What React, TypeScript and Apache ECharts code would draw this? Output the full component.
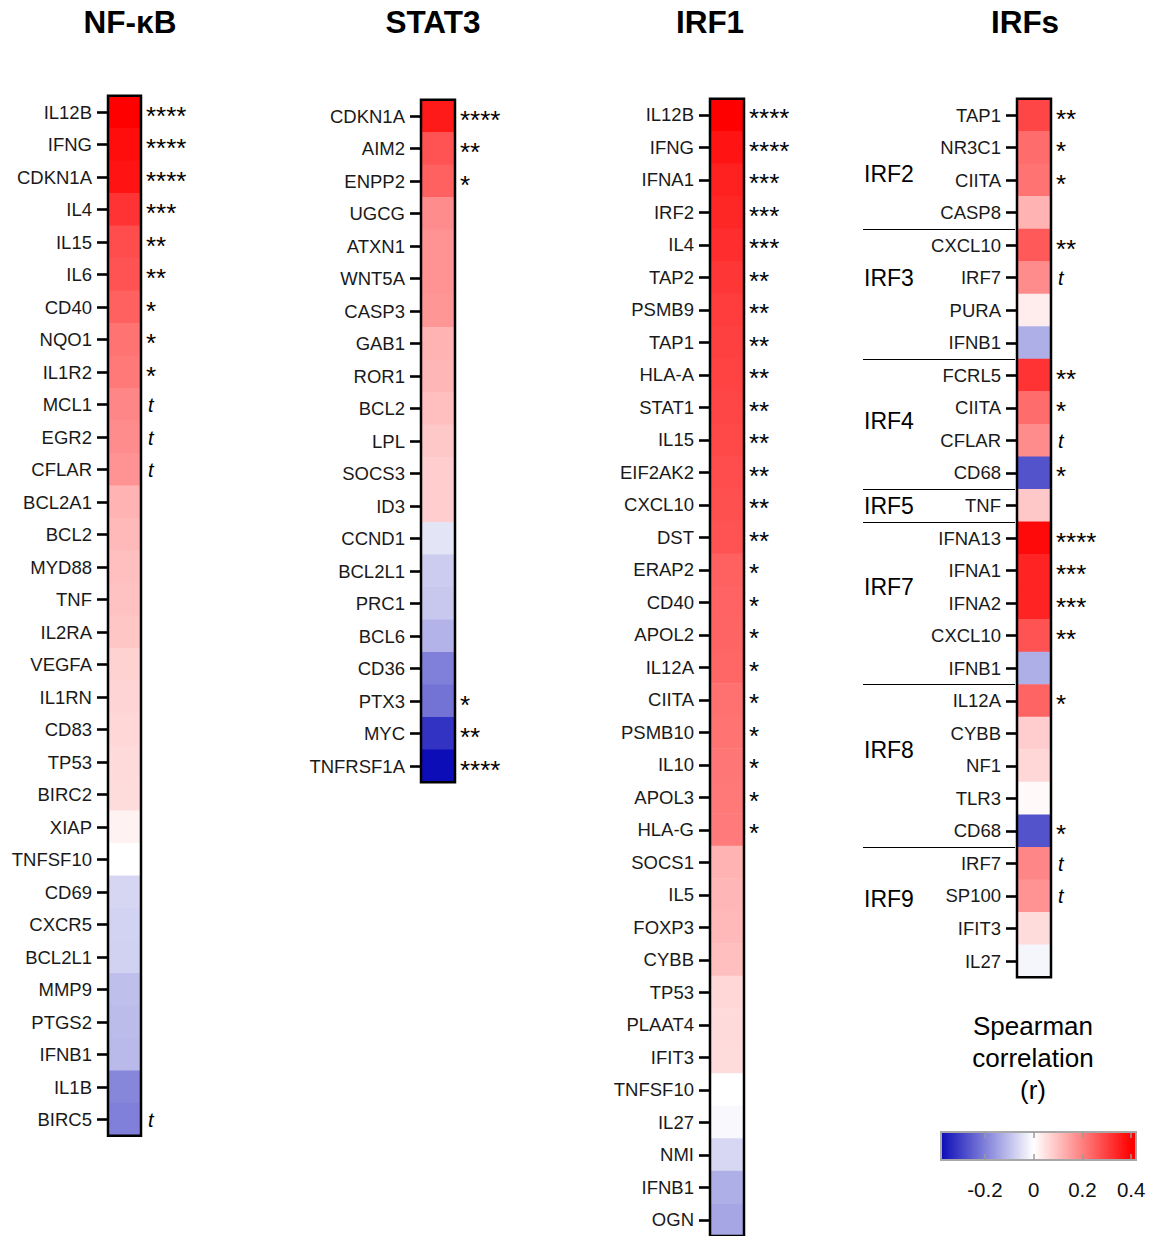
import React, { useEffect, useRef } from 'react';
import * as echarts from 'echarts';

// ---------------- DATA ----------------
const nfkbGenes = ['IL12B', 'IFNG', 'CDKN1A', 'IL4', 'IL15', 'IL6', 'CD40', 'NQO1', 'IL1R2', 'MCL1', 'EGR2', 'CFLAR', 'BCL2A1', 'BCL2', 'MYD88', 'TNF', 'IL2RA', 'VEGFA', 'IL1RN', 'CD83', 'TP53', 'BIRC2', 'XIAP', 'TNFSF10', 'CD69', 'CXCR5', 'BCL2L1', 'MMP9', 'PTGS2', 'IFNB1', 'IL1B', 'BIRC5'];
const nfkbR = [0.4, 0.38, 0.37, 0.32, 0.28, 0.27, 0.25, 0.22, 0.21, 0.19, 0.18, 0.17, 0.12, 0.11, 0.1, 0.095, 0.09, 0.07, 0.068, 0.063, 0.058, 0.055, 0.02, 0.0, -0.065, -0.07, -0.072, -0.1, -0.105, -0.11, -0.19, -0.2];
const nfkbSig = ['****', '****', '****', '***', '**', '**', '*', '*', '*', 't', 't', 't', '', '', '', '', '', '', '', '', '', '', '', '', '', '', '', '', '', '', '', 't'];

const stat3Genes = ['CDKN1A', 'AIM2', 'ENPP2', 'UGCG', 'ATXN1', 'WNT5A', 'CASP3', 'GAB1', 'ROR1', 'BCL2', 'LPL', 'SOCS3', 'ID3', 'CCND1', 'BCL2L1', 'PRC1', 'BCL6', 'CD36', 'PTX3', 'MYC', 'TNFRSF1A'];
const stat3R = [0.36, 0.27, 0.25, 0.18, 0.17, 0.17, 0.165, 0.12, 0.115, 0.1, 0.086, 0.078, 0.078, -0.042, -0.08, -0.086, -0.12, -0.2, -0.22, -0.32, -0.38];
const stat3Sig = ['****', '**', '*', '', '', '', '', '', '', '', '', '', '', '', '', '', '', '', '*', '**', '****'];

const irf1Genes = ['IL12B', 'IFNG', 'IFNA1', 'IRF2', 'IL4', 'TAP2', 'PSMB9', 'TAP1', 'HLA-A', 'STAT1', 'IL15', 'EIF2AK2', 'CXCL10', 'DST', 'ERAP2', 'CD40', 'APOL2', 'IL12A', 'CIITA', 'PSMB10', 'IL10', 'APOL3', 'HLA-G', 'SOCS1', 'IL5', 'FOXP3', 'CYBB', 'TP53', 'PLAAT4', 'IFIT3', 'TNFSF10', 'IL27', 'NMI', 'IFNB1', 'OGN'];
const irf1R = [0.4, 0.37, 0.35, 0.34, 0.33, 0.315, 0.305, 0.3, 0.295, 0.29, 0.285, 0.28, 0.275, 0.27, 0.25, 0.245, 0.243, 0.24, 0.225, 0.22, 0.215, 0.21, 0.208, 0.12, 0.115, 0.11, 0.1, 0.063, 0.058, 0.055, 0.0, -0.01, -0.062, -0.125, -0.14];
const irf1Sig = ['****', '****', '***', '***', '***', '**', '**', '**', '**', '**', '**', '**', '**', '**', '*', '*', '*', '*', '*', '*', '*', '*', '*', '', '', '', '', '', '', '', '', '', '', '', ''];

const irfsGenes = ['TAP1', 'NR3C1', 'CIITA', 'CASP8', 'CXCL10', 'IRF7', 'PURA', 'IFNB1', 'FCRL5', 'CIITA', 'CFLAR', 'CD68', 'TNF', 'IFNA13', 'IFNA1', 'IFNA2', 'CXCL10', 'IFNB1', 'IL12A', 'CYBB', 'NF1', 'TLR3', 'CD68', 'IRF7', 'SP100', 'IFIT3', 'IL27'];
const irfsR = [0.29, 0.23, 0.22, 0.12, 0.26, 0.18, 0.03, -0.125, 0.32, 0.23, 0.18, -0.27, 0.086, 0.385, 0.345, 0.345, 0.27, -0.125, 0.243, 0.078, 0.063, 0.01, -0.27, 0.19, 0.17, 0.055, -0.015];
const irfsSig = ['**', '*', '*', '', '**', 't', '', '', '**', '*', 't', '*', '', '****', '***', '***', '**', '', '*', '', '', '', '*', 't', 't', '', ''];

const irfGroupNames = ['IRF2', 'IRF3', 'IRF4', 'IRF5', 'IRF7', 'IRF8', 'IRF9'];
const irfGroupSizes = [4, 4, 4, 1, 5, 5, 4];

const panelTitles = ['NF-κB', 'STAT3', 'IRF1', 'IRFs'];

const colorbarTicks = [-0.2, 0, 0.2, 0.4];
const colorbarRange = [-0.38, 0.42];
const colorScaleRange = [-0.4, 0.4];
const legendTitleLines = ['Spearman', 'correlation', '(r)'];

// ---------------- LAYOUT / STYLE ----------------
const FONT = "'Liberation Sans', Arial, Helvetica, sans-serif";
const COLORS = ['#0000b4', '#ffffff', '#ff0000'];
const panelLayout = [
  { left: 108, top: 95.75, width: 33, height: 1040, titleX: 130 },
  { left: 421, top: 99.75, width: 34, height: 682.5, titleX: 433 },
  { left: 710, top: 98.75, width: 34, height: 1137.5, titleX: 710 },
  { left: 1017, top: 98.75, width: 34, height: 878.6, titleX: 1025 },
];
// label row offset (from the group's first row) for IRF group labels
const irfGroupLabelOffset = [1.8, 1.0, 1.4, 0, 1.5, 1.5, 1.1];
const colorbarLayout = { left: 941, top: 1132, width: 195, height: 28 };

function colorAt(v: number) {
  const t = Math.max(0, Math.min(1, (v - colorScaleRange[0]) / (colorScaleRange[1] - colorScaleRange[0])));
  return echarts.color.lerp(t, COLORS) as string;
}

function buildOption() {
  const panels = [
    { genes: nfkbGenes, r: nfkbR, sig: nfkbSig },
    { genes: stat3Genes, r: stat3R, sig: stat3Sig },
    { genes: irf1Genes, r: irf1R, sig: irf1Sig },
    { genes: irfsGenes, r: irfsR, sig: irfsSig },
  ];

  const grid: any[] = [];
  const xAxis: any[] = [];
  const yAxis: any[] = [];
  const series: any[] = [];
  const graphic: any[] = [];

  panels.forEach((p, i) => {
    const L = panelLayout[i];
    grid.push({
      left: L.left, top: L.top, width: L.width, height: L.height,
      show: true, z: 10, borderColor: '#000', borderWidth: 2.5, backgroundColor: 'transparent',
    });
    xAxis.push({ type: 'category', gridIndex: i, data: [''], show: false });
    yAxis.push({
      type: 'category', gridIndex: i, inverse: true, data: p.genes, position: 'left',
      axisLine: { show: false },
      axisTick: { show: true, length: 11, alignWithLabel: true, interval: 0, lineStyle: { color: '#000', width: 2.6 } },
      axisLabel: { interval: 0, margin: 16, fontSize: 18.5, color: '#1a1a1a', fontFamily: FONT },
      splitLine: { show: false },
    });
    yAxis.push({
      type: 'category', gridIndex: i, inverse: true, data: p.sig, position: 'right',
      axisLine: { show: false }, axisTick: { show: false }, splitLine: { show: false },
      axisLabel: {
        interval: 0, margin: 5, fontSize: 26, color: '#000', fontFamily: FONT,
        padding: [7, 0, 0, 0],
        formatter: (v: string) => (v === 't' ? '{t|t}' : v),
        rich: { t: { fontSize: 20, fontStyle: 'italic', fontFamily: FONT, color: '#000', padding: [0, 0, 6, 2] } },
      },
    });
    series.push({
      type: 'heatmap', xAxisIndex: i, yAxisIndex: i * 2,
      data: p.r.map((v, j) => [0, j, v]),
      itemStyle: { borderWidth: 0 },
      emphasis: { disabled: true },
    });
    graphic.push({
      type: 'text', x: L.titleX, y: 22,
      style: { text: panelTitles[i], align: 'center', verticalAlign: 'middle', fontSize: 31.5, fontWeight: 'bold', fontFamily: FONT, fill: '#000' },
    });
  });

  // IRF group labels & separators
  const total = irfsGenes.length;
  let start = 0;
  const groupData = irfGroupNames.map((name, g) => {
    const end = start + irfGroupSizes[g];
    const item = { name, value: [0, start, end, start + irfGroupLabelOffset[g]] };
    start = end;
    return item;
  });
  series.push({
    type: 'custom', xAxisIndex: 3, yAxisIndex: 6, silent: true, clip: false, z: 20,
    encode: { x: 0, y: 1 },
    data: groupData,
    renderItem: (params: any, api: any) => {
      const end = api.value(2);
      const labelRow = api.value(3);
      const top = api.coord([0, 0])[1];
      const band = api.size([0, 1])[1];
      const x0 = params.coordSys.x;
      const children: any[] = [
        {
          type: 'text', x: x0 - 153, y: top + labelRow * band,
          style: { text: irfGroupNames[params.dataIndex], fontSize: 23, fontFamily: FONT, fill: '#000', align: 'left', verticalAlign: 'middle' },
        },
      ];
      if (end < total) {
        const y = Math.round(top + (end - 0.5) * band) + 0.5;
        children.push({ type: 'line', shape: { x1: x0 - 154, y1: y, x2: x0 - 2, y2: y }, style: { stroke: '#000', lineWidth: 1 } });
      }
      return { type: 'group', children };
    },
  });

  // Colour bar
  grid.push({ ...colorbarLayout, show: true, z: 10, borderColor: '#a8a8a8', borderWidth: 2, backgroundColor: 'transparent' });
  const cbTick = { show: true, inside: true, length: 6, lineStyle: { color: '#9a9a9a', width: 1.5 }, customValues: colorbarTicks };
  xAxis.push({
    type: 'value', gridIndex: 4, min: colorbarRange[0], max: colorbarRange[1], position: 'bottom', z: 12,
    axisLine: { show: false }, splitLine: { show: false },
    axisTick: cbTick,
    axisLabel: { customValues: colorbarTicks, formatter: (v: number) => String(Math.round(v * 10) / 10), fontSize: 20.5, color: '#111', fontFamily: FONT, margin: 19 },
  });
  xAxis.push({
    type: 'value', gridIndex: 4, min: colorbarRange[0], max: colorbarRange[1], position: 'top', z: 12,
    axisLine: { show: false }, splitLine: { show: false },
    axisTick: cbTick, axisLabel: { show: false },
  });
  yAxis.push({ type: 'value', gridIndex: 4, min: 0, max: 1, show: false });

  const stopVals = [colorbarRange[0], 0, colorScaleRange[1], colorbarRange[1]];
  const span = colorbarRange[1] - colorbarRange[0];
  series.push({
    type: 'custom', xAxisIndex: 4, yAxisIndex: 8, silent: true,
    encode: { x: [0, 2], y: [1, 3] },
    data: [[colorbarRange[0], 0, colorbarRange[1], 1]],
    renderItem: (params: any, api: any) => {
      const p0 = api.coord([api.value(0), api.value(1)]);
      const p1 = api.coord([api.value(2), api.value(3)]);
      return {
        type: 'rect',
        shape: { x: p0[0], y: p1[1], width: p1[0] - p0[0], height: p0[1] - p1[1] },
        style: {
          fill: new echarts.graphic.LinearGradient(0, 0, 1, 0,
            stopVals.map((v) => ({ offset: (v - colorbarRange[0]) / span, color: colorAt(v) }))),
        },
      };
    },
  });

  legendTitleLines.forEach((t, k) => {
    graphic.push({
      type: 'text', x: 1033, y: 1026 + k * 32,
      style: { text: t, align: 'center', verticalAlign: 'middle', fontSize: 26, fontFamily: FONT, fill: '#000' },
    });
  });

  return {
    animation: false,
    backgroundColor: '#ffffff',
    grid, xAxis, yAxis, series, graphic,
    visualMap: {
      type: 'continuous', show: false, min: colorScaleRange[0], max: colorScaleRange[1],
      seriesIndex: [0, 1, 2, 3], dimension: 2,
      inRange: { color: COLORS },
    },
  };
}

export default function App() {
  const ref = useRef<HTMLDivElement>(null);
  useEffect(() => {
    const chart = echarts.init(ref.current!, null, { renderer: 'svg' });
    chart.setOption(buildOption() as any);
    return () => chart.dispose();
  }, []);
  return (
    <div
      ref={ref}
      style={{ position: 'fixed', left: 0, top: 0, width: 1151, height: 1236, background: '#fff' }}
    />
  );
}
